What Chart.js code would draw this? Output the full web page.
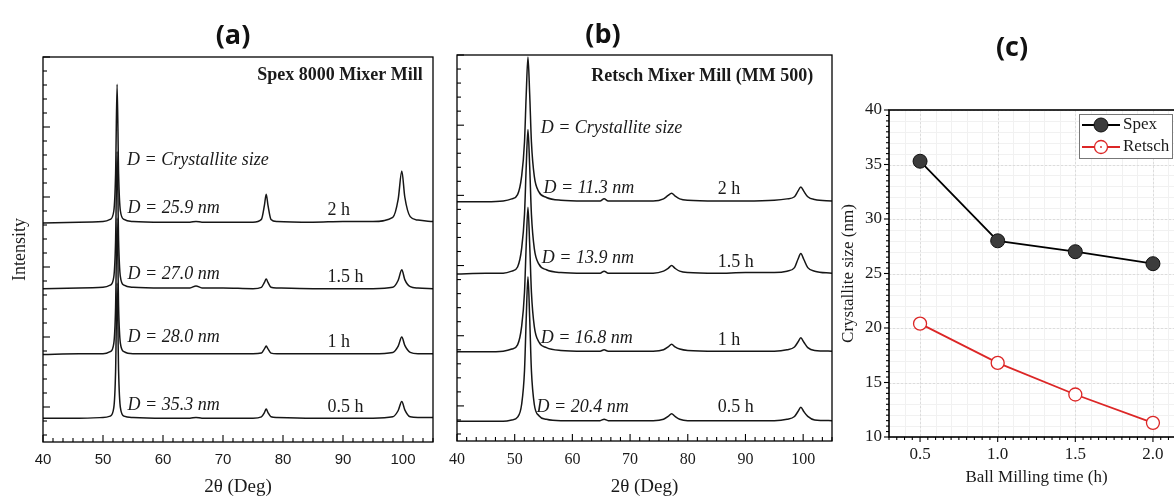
<!DOCTYPE html>
<html>
<head>
<meta charset="utf-8">
<title>Crystallite size vs milling time</title>
<script src="https://cdn.jsdelivr.net/npm/chart.js@4.4.0/dist/chart.umd.min.js"></script>
<style>
  html, body { margin: 0; padding: 0; background: #fff; }
  body { width: 1174px; height: 498px; position: relative; overflow: hidden; }
  canvas { position: absolute; top: 0; }
  .tag {
    position: absolute;
    font-family: "Open Sans", sans-serif;
    font-weight: 700;
    font-size: 27px;
    color: #111;
    transform: translate(-50%, -50%);
    white-space: nowrap;
  }
</style>
</head>
<body>
<canvas id="chartA" width="440" height="498" style="left:0px"></canvas>
<canvas id="chartB" width="400" height="498" style="left:440px"></canvas>
<canvas id="chartC" width="400" height="498" style="left:840px"></canvas>
<div class="tag" style="left:233px;top:33px">(a)</div>
<div class="tag" style="left:603px;top:32px">(b)</div>
<div class="tag" style="left:1012px;top:45px">(c)</div>

<script>
// ---- data ----
const millingTimes = [0.5, 1.0, 1.5, 2.0];
const timeLabels = ['0.5 h', '1 h', '1.5 h', '2 h'];
const spexSize = [35.3, 28.0, 27.0, 25.9];
const retschSize = [20.4, 16.8, 13.9, 11.3];

const angleTicks = [40, 50, 60, 70, 80, 90, 100];
const intensityTicks = [0.5, 1.5, 2.5, 3.5, 4.5, 5.5];

// (a) Spex 8000 patterns, stacked (arbitrary intensity units)
const spexAngles = [40, 46, 50, 51.2, 51.8, 52.1, 52.35, 52.6, 52.9, 53.5, 55, 60, 64.5, 65.5, 66.5, 70, 75,
  76.4, 76.9, 77.2, 77.5, 78.0, 79, 85, 90, 95, 98.3, 99.2, 99.8, 100.3, 101.2, 102.5, 105];
const spex05h = [0.34, 0.34, 0.35, 0.37, 0.49, 1.01, 2.27, 1.01, 0.49, 0.37, 0.35, 0.34, 0.34, 0.35, 0.34, 0.34, 0.34,
  0.36, 0.42, 0.47, 0.42, 0.36, 0.35, 0.34, 0.34, 0.34, 0.36, 0.45, 0.58, 0.46, 0.36, 0.35, 0.35];
const spex1h = [1.25, 1.26, 1.26, 1.29, 1.41, 1.93, 3.20, 1.93, 1.41, 1.29, 1.26, 1.26, 1.26, 1.26, 1.26, 1.26, 1.26,
  1.27, 1.33, 1.37, 1.33, 1.27, 1.26, 1.26, 1.26, 1.26, 1.28, 1.37, 1.50, 1.38, 1.28, 1.26, 1.26];
const spex15h = [2.19, 2.20, 2.21, 2.24, 2.36, 2.88, 4.15, 2.88, 2.36, 2.24, 2.21, 2.20, 2.20, 2.23, 2.20, 2.20, 2.19,
  2.21, 2.28, 2.33, 2.28, 2.21, 2.20, 2.19, 2.19, 2.19, 2.21, 2.31, 2.46, 2.32, 2.22, 2.20, 2.19];
const spex2h = [3.13, 3.14, 3.15, 3.18, 3.30, 3.83, 5.11, 3.83, 3.30, 3.18, 3.15, 3.14, 3.14, 3.15, 3.14, 3.14, 3.14,
  3.18, 3.38, 3.54, 3.38, 3.18, 3.15, 3.14, 3.15, 3.15, 3.21, 3.47, 3.87, 3.50, 3.22, 3.17, 3.15];

// (b) Retsch MM 500 patterns
const retschAngles = [40, 45, 48, 49.5, 50.5, 51.2, 51.7, 52.0, 52.3, 52.6, 52.9, 53.4, 54.2, 55.5, 58, 62, 64.8,
  65.5, 66.2, 70, 74, 75.8, 76.6, 77.2, 77.8, 78.6, 80, 85, 90, 95, 97.2, 98.5, 99.1, 99.6, 100.1, 100.8, 102, 105];
const retsch05h = [0.28, 0.28, 0.28, 0.30, 0.34, 0.52, 1.00, 1.75, 2.34, 1.75, 1.00, 0.52, 0.36, 0.31, 0.29, 0.29, 0.29,
  0.31, 0.29, 0.29, 0.29, 0.31, 0.35, 0.39, 0.35, 0.31, 0.29, 0.29, 0.29, 0.29, 0.31, 0.35, 0.42, 0.48, 0.42, 0.35, 0.30, 0.29];
const retsch1h = [1.27, 1.27, 1.28, 1.31, 1.37, 1.63, 2.12, 2.80, 3.33, 2.80, 2.12, 1.63, 1.41, 1.33, 1.29, 1.28, 1.28,
  1.30, 1.28, 1.28, 1.28, 1.30, 1.34, 1.38, 1.34, 1.31, 1.29, 1.28, 1.28, 1.28, 1.30, 1.34, 1.41, 1.47, 1.41, 1.33, 1.29, 1.28];
const retsch15h = [2.38, 2.39, 2.39, 2.42, 2.48, 2.74, 3.23, 3.91, 4.44, 3.91, 3.23, 2.74, 2.52, 2.44, 2.40, 2.39, 2.39,
  2.42, 2.39, 2.39, 2.39, 2.42, 2.46, 2.50, 2.46, 2.42, 2.40, 2.39, 2.40, 2.40, 2.42, 2.47, 2.59, 2.67, 2.59, 2.47, 2.42, 2.39];
const retsch2h = [3.41, 3.41, 3.42, 3.45, 3.51, 3.77, 4.26, 4.94, 5.47, 4.94, 4.26, 3.77, 3.55, 3.47, 3.43, 3.42, 3.42,
  3.45, 3.42, 3.42, 3.42, 3.45, 3.50, 3.53, 3.49, 3.45, 3.43, 3.42, 3.42, 3.43, 3.45, 3.48, 3.56, 3.62, 3.56, 3.48, 3.44, 3.42];

const SERIF = '"Liberation Serif", "Times New Roman", serif';
const SANS = '"Liberation Sans", Arial, sans-serif';
const INK = '#1a1a1a';
const RED = '#dc2626';

Chart.defaults.color = INK;

// per-canvas extras: frame, tick marks, grid, annotations, legend
const decoSettings = {};

function stepValues(min, max, anchor, step) {
  const out = [];
  const k0 = Math.ceil((min - anchor) / step - 1e-6);
  const k1 = Math.floor((max - anchor) / step + 1e-6);
  for (let k = k0; k <= k1; k++) out.push(anchor + k * step);
  return out;
}

const deco = {
  id: 'deco',
  beforeDatasetsDraw(chart) {
    const s = decoSettings[chart.canvas.id];
    if (!s || !s.grid) return;
    const { ctx, chartArea: a, scales: { x, y } } = chart;
    ctx.save();
    ctx.lineWidth = 1;
    const lines = (scale, step, color) => {
      ctx.strokeStyle = color;
      stepValues(scale.min, scale.max, scale.ticks[0].value, step).forEach(v => {
        const p = Math.round(scale.getPixelForValue(v)) + 0.5;
        ctx.beginPath();
        if (scale === x) { ctx.moveTo(p, a.top); ctx.lineTo(p, a.bottom); }
        else { ctx.moveTo(a.left, p); ctx.lineTo(a.right, p); }
        ctx.stroke();
      });
    };
    lines(x, s.grid.xMinor, '#f1f1f1');
    lines(y, s.grid.yMinor, '#f1f1f1');
    ctx.setLineDash([2, 2]);
    lines(x, s.grid.xMajor, '#dcdcdc');
    lines(y, s.grid.yMajor, '#dcdcdc');
    ctx.restore();
  },
  afterDatasetsDraw(chart) {
    const s = decoSettings[chart.canvas.id];
    if (!s) return;
    const { ctx, chartArea: a, scales: { x, y } } = chart;
    ctx.save();

    // frame
    ctx.strokeStyle = '#000';
    ctx.lineWidth = s.frameWidth;
    ctx.strokeRect(a.left, a.top, a.right - a.left, a.bottom - a.top);

    // tick marks (major from scale ticks, minor by step)
    const dir = s.ticks.inward ? 1 : -1;
    ctx.lineWidth = 1.1;
    const mark = (scale, v, len) => {
      const p = scale.getPixelForValue(v);
      ctx.beginPath();
      if (scale === x) { ctx.moveTo(p, a.bottom); ctx.lineTo(p, a.bottom - dir * len); }
      else { ctx.moveTo(a.left, p); ctx.lineTo(a.left + dir * len, p); }
      ctx.stroke();
    };
    [[x, s.ticks.xMinor], [y, s.ticks.yMinor]].forEach(([scale, step]) => {
      const majors = scale.ticks.map(t => t.value);
      stepValues(scale.min, scale.max, majors[0], step).forEach(v => {
        if (!majors.some(m => Math.abs(m - v) < step / 10)) mark(scale, v, s.ticks.minor);
      });
      majors.forEach(v => mark(scale, v, s.ticks.major));
    });

    // annotations in data coordinates
    ctx.fillStyle = INK;
    ctx.textBaseline = 'middle';
    (s.texts || []).forEach(t => {
      ctx.font = t.font;
      ctx.textAlign = t.align || 'left';
      ctx.fillText(t.text, x.getPixelForValue(t.x), y.getPixelForValue(t.y));
    });

    // legend box
    if (s.legend) {
      const L = s.legend;
      const x0 = a.right - L.offsetRight, y0 = a.top + L.offsetTop;
      ctx.fillStyle = '#fff';
      ctx.fillRect(x0, y0, L.w, L.h);
      ctx.strokeStyle = '#777';
      ctx.lineWidth = 1;
      ctx.strokeRect(x0 + 0.5, y0 + 0.5, L.w, L.h);
      const items = chart.data.datasets.filter(d => d.label);
      items.forEach((d, i) => {
        const cy = y0 + 11 + i * 22;
        ctx.strokeStyle = d.borderColor;
        ctx.lineWidth = 2;
        ctx.beginPath(); ctx.moveTo(x0 + 3, cy); ctx.lineTo(x0 + 41, cy); ctx.stroke();
        ctx.beginPath();
        ctx.arc(x0 + 22, cy, d.pointRadius, 0, Math.PI * 2);
        ctx.fillStyle = d.pointBackgroundColor; ctx.fill();
        ctx.strokeStyle = d.pointBorderColor; ctx.lineWidth = d.pointBorderWidth; ctx.stroke();
        if (d.label === 'Retsch') {
          ctx.beginPath(); ctx.arc(x0 + 22, cy, 0.9, 0, Math.PI * 2);
          ctx.fillStyle = RED; ctx.fill();
        }
        ctx.fillStyle = INK;
        ctx.font = '17px ' + SERIF;
        ctx.textAlign = 'left';
        ctx.fillText(d.label, x0 + 44, cy);
      });
    }
    ctx.restore();
  }
};

function xrdChart(id, angles, curves, cfg) {
  decoSettings[id] = cfg.deco;
  return new Chart(document.getElementById(id), {
    type: 'line',
    data: {
      datasets: curves.map(values => ({
        data: angles.map((a, i) => ({ x: a, y: values[i] })),
        borderColor: '#161616',
        borderWidth: 1.5,
        pointRadius: 0,
        cubicInterpolationMode: 'monotone'
      }))
    },
    options: {
      responsive: false,
      animation: false,
      devicePixelRatio: 1,
      layout: { padding: cfg.padding },
      plugins: { legend: { display: false }, tooltip: { enabled: false } },
      scales: {
        x: {
          type: 'linear', min: 40, max: 105,
          afterBuildTicks: s => { s.ticks = angleTicks.map(v => ({ value: v })); },
          afterFit: s => { s.height = cfg.xHeight; },
          grid: { display: false, drawTicks: false },
          border: { display: false },
          ticks: { font: cfg.xTickFont, padding: 9, color: INK },
          title: { display: true, text: '2θ (Deg)', font: { family: SERIF, size: 19, lineHeight: 1.1 }, padding: { top: 0, bottom: 1 } }
        },
        y: {
          type: 'linear', min: 0, max: 5.5,
          afterBuildTicks: s => { s.ticks = intensityTicks.map(v => ({ value: v })); },
          afterFit: s => { s.width = cfg.yWidth; },
          grid: { display: false, drawTicks: false },
          border: { display: false },
          ticks: { display: false },
          title: cfg.yTitle || { display: false }
        }
      }
    },
    plugins: [deco]
  });
}

const italic = 'italic 18px ' + SERIF;
const upright = '18px ' + SERIF;
const bold = 'bold 18px ' + SERIF;

// (a) Spex 8000 Mixer Mill
const spexTextY = [0.53, 1.49, 2.40, 3.34];
const spexTimeY = [0.49, 1.43, 2.36, 3.31];
xrdChart('chartA', spexAngles, [spex05h, spex1h, spex15h, spex2h], {
  padding: { top: 57, right: 7, left: 0, bottom: 0 },
  xHeight: 56, yWidth: 43,
  xTickFont: { family: SANS, size: 15 },
  yTitle: { display: true, text: 'Intensity', font: { family: SERIF, size: 18 }, padding: { top: 9, bottom: 0 } },
  deco: {
    frameWidth: 1.3,
    ticks: { inward: true, major: 7, minor: 4, xMinor: 10 / 6, yMinor: 0.2 },
    texts: [
      { text: 'Spex 8000 Mixer Mill', x: 103.3, y: 5.24, font: bold, align: 'right' },
      { text: 'D = Crystallite size', x: 54.0, y: 4.03, font: italic }
    ].concat(
      spexSize.map((v, i) => ({ text: 'D = ' + v.toFixed(1) + ' nm', x: 54.1, y: spexTextY[i], font: italic })),
      timeLabels.map((t, i) => ({ text: t, x: 87.4, y: spexTimeY[i], font: upright }))
    )
  }
});

// (b) Retsch Mixer Mill (MM 500)
const retschTextX = [53.8, 54.5, 54.7, 55.0];
const retschTextY = [0.48, 1.47, 2.61, 3.60];
const retschTimeY = [0.48, 1.44, 2.54, 3.58];
xrdChart('chartB', retschAngles, [retsch05h, retsch1h, retsch15h, retsch2h], {
  padding: { top: 55, right: 8, left: 0, bottom: 0 },
  xHeight: 57, yWidth: 11,
  xTickFont: { family: SERIF, size: 16 },
  deco: {
    frameWidth: 1.3,
    ticks: { inward: true, major: 7, minor: 4, xMinor: 10 / 6, yMinor: 0.2 },
    texts: [
      { text: 'Retsch Mixer Mill (MM 500)', x: 101.75, y: 5.20, font: bold, align: 'right' },
      { text: 'D = Crystallite size', x: 54.5, y: 4.45, font: italic }
    ].concat(
      retschSize.map((v, i) => ({ text: 'D = ' + v.toFixed(1) + ' nm', x: retschTextX[i], y: retschTextY[i], font: italic })),
      timeLabels.map((t, i) => ({ text: t, x: 85.2, y: retschTimeY[i], font: upright }))
    )
  }
});

// (c) crystallite size vs ball milling time
decoSettings.chartC = {
  frameWidth: 1.6,
  ticks: { inward: false, major: 5, minor: 3, xMinor: 0.05, yMinor: 0.5 },
  grid: { xMinor: 0.1, yMinor: 1, xMajor: 0.5, yMajor: 5 },
  legend: { offsetRight: 105, offsetTop: 4, w: 93, h: 44 }
};
new Chart(document.getElementById('chartC'), {
  type: 'line',
  data: {
    datasets: [
      {
        label: 'Spex',
        data: millingTimes.map((t, i) => ({ x: t, y: spexSize[i] })),
        borderColor: '#000', borderWidth: 1.8,
        pointRadius: 7, pointBackgroundColor: '#3c3c3c', pointBorderColor: '#111', pointBorderWidth: 1
      },
      {
        label: 'Retsch',
        data: millingTimes.map((t, i) => ({ x: t, y: retschSize[i] })),
        borderColor: RED, borderWidth: 1.8,
        pointRadius: 6.5, pointBackgroundColor: '#fff', pointBorderColor: RED, pointBorderWidth: 1.3
      },
      {
        data: millingTimes.map((t, i) => ({ x: t, y: retschSize[i] })),
        showLine: false, pointRadius: 0.9, pointBackgroundColor: RED, pointBorderWidth: 0
      }
    ]
  },
  options: {
    responsive: false,
    animation: false,
    devicePixelRatio: 1,
    layout: { padding: { top: 110, right: 56, left: 0, bottom: 0 } },
    plugins: { legend: { display: false }, tooltip: { enabled: false } },
    scales: {
      x: {
        type: 'linear', min: 0.3, max: 2.2,
        afterBuildTicks: s => { s.ticks = millingTimes.map(v => ({ value: v })); },
        afterFit: s => { s.height = 61; },
        grid: { display: false, drawTicks: false },
        border: { display: false },
        ticks: { font: { family: SERIF, size: 17 }, padding: 7, color: INK, callback: v => Number(v).toFixed(1) },
        title: { display: true, text: 'Ball Milling time (h)', font: { family: SERIF, size: 17 }, padding: { top: 0, bottom: 10 } }
      },
      y: {
        type: 'linear', min: 10, max: 40,
        ticks: { stepSize: 5, font: { family: SERIF, size: 17 }, padding: 7, color: INK },
        afterFit: s => { s.width = 49; },
        grid: { display: false, drawTicks: false },
        border: { display: false },
        title: { display: true, text: 'Crystallite size (nm)', font: { family: SERIF, size: 17, lineHeight: 1 }, padding: { top: 0, bottom: 0 } }
      }
    }
  },
  plugins: [deco]
});
</script>
</body>
</html>
